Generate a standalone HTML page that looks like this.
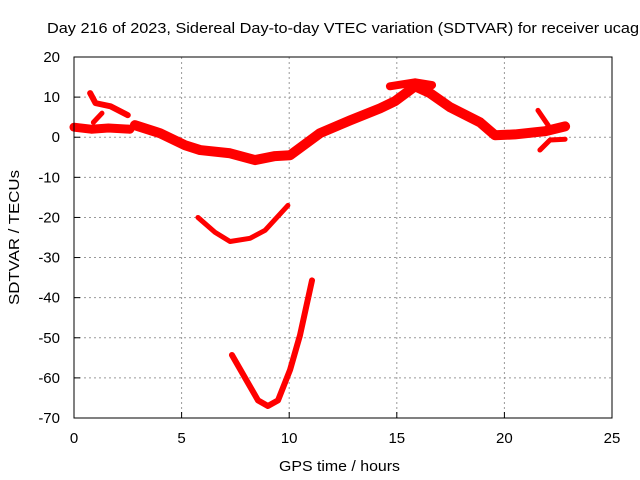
<!DOCTYPE html>
<html><head><meta charset="utf-8"><style>
body{margin:0;background:#fff}
svg{display:block;font-family:"Liberation Sans",sans-serif}
</style></head><body>
<svg id="chart" width="640" height="480">
<text x="47" y="33" font-size="15" textLength="592" lengthAdjust="spacingAndGlyphs">Day 216 of 2023, Sidereal Day-to-day VTEC variation (SDTVAR) for receiver ucag</text>
<g id="grid"></g><g id="axes"></g><g id="series"></g>
<rect x="74" y="57" width="538" height="361" fill="none" stroke="#000" stroke-width="1"/>
<text x="279" y="471" font-size="15" textLength="121" lengthAdjust="spacingAndGlyphs">GPS time / hours</text>
<text transform="translate(19,305) rotate(-90)" font-size="15" textLength="135" lengthAdjust="spacingAndGlyphs">SDTVAR / TECUs</text>
</svg>
<script>
const xTicks=[0,5,10,15,20,25];
const yTicks=[20,10,0,-10,-20,-30,-40,-50,-60,-70];
const s1H=[0,0.8,1.6,2.6];const s1V=[2.5,2.0,2.3,2.0];
const s2H=[0.9,1.3];const s2V=[3.7,6];
const s3H=[0.75,1.0,1.7,2.5];const s3V=[11,8.5,7.7,5.5];
const s4H=[2.83,4.0,5.16,5.86,7.25,8.41,9.34,10.04,11.43,12.83,14.22,14.92,15.85,16.54,17.47,18.87,19.56,20.49,21.89,22.82];
const s4V=[3,1,-2,-3.2,-4,-5.7,-4.7,-4.5,1,4.2,7.2,9,12.7,11,7.5,3.7,0.5,0.7,1.5,2.7];
const s5H=[14.68,15.85,16.64];const s5V=[12.7,13.7,13];
const s6H=[21.56,22.03];const s6V=[6.7,3];
const s7H=[21.65,22.12,22.82];const s7V=[-3.2,-0.7,-0.5];
const s8H=[5.76,6.55,7.25,8.18,8.88,9.94];const s8V=[-20,-23.7,-26,-25.2,-23.2,-17];
const s9H=[7.34,7.95,8.55,9.01,9.48,10.04,10.5,11.06];const s9V=[-54.3,-60,-65.6,-67,-65.6,-58,-49.4,-35.7];
const NS='http://www.w3.org/2000/svg';
const X=h=>74+h*538/25, Y=v=>57+(20-v)*361/90;
const grid=document.getElementById('grid'),axes=document.getElementById('axes'),ser=document.getElementById('series');
function mk(tag,attrs,parent){const e=document.createElementNS(NS,tag);for(const k in attrs)e.setAttribute(k,attrs[k]);parent.appendChild(e);return e;}
xTicks.forEach(t=>{
 if(t>0&&t<25){const g=mk('line',{x1:X(t),x2:X(t),y1:57,y2:418,stroke:'#999','stroke-dasharray':'2,3'},grid);
 
 }
 const tx=mk('text',{x:X(t),y:443,'font-size':15,'text-anchor':'middle'},axes);tx.textContent=t;
 
 
 mk('line',{x1:X(t),x2:X(t),y1:418,y2:412,stroke:'#000'},axes);
});
yTicks.forEach(t=>{
 if(t<20&&t>-70){const g=mk('line',{x1:74,x2:612,y1:Y(t),y2:Y(t),stroke:'#999','stroke-dasharray':'2,3'},grid);
 
 }
 const tx=mk('text',{x:60,y:Y(t)+5,'font-size':15,'text-anchor':'end'},axes);tx.textContent=t;
 
 
 mk('line',{x1:74,x2:80,y1:Y(t),y2:Y(t),stroke:'#000'},axes);
});
const all=[[s1H,s1V,9],[s2H,s2V,5],[s3H,s3V,6],[s4H,s4V,10],[s5H,s5V,8],[s6H,s6V,5],[s7H,s7V,5],[s8H,s8V,5],[s9H,s9V,6]];
all.forEach((s,i)=>{
 const pts=s[0].map((h,j)=>X(h)+','+Y(s[1][j])).join(' ');
 const p=mk('polyline',{points:pts,fill:'none',stroke:'#f00','stroke-width':s[2],'stroke-linejoin':'round','stroke-linecap':'round'},ser);
 
 
});
</script>
</body></html>
